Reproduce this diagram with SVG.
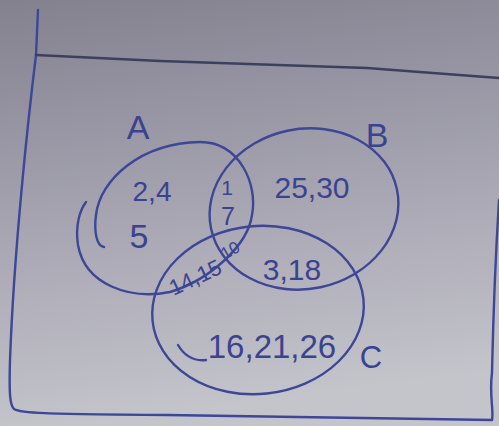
<svg xmlns="http://www.w3.org/2000/svg" width="499" height="426" viewBox="0 0 499 426">
<defs>
<linearGradient id="bg" x1="0" y1="0" x2="0.15" y2="1">
<stop offset="0" stop-color="#83818e"/>
<stop offset="0.3" stop-color="#9795a3"/>
<stop offset="0.7" stop-color="#b1b0bb"/>
<stop offset="1" stop-color="#c4c4cb"/>
</linearGradient>
<style>
.ink{fill:none;stroke:#3d4697;stroke-width:2.4;stroke-linecap:round;stroke-linejoin:round}
.dark{fill:none;stroke:#3e3f5e;stroke-width:2.4;stroke-linecap:round}
.t{font-family:"Liberation Sans",Arial,sans-serif;fill:#3a4390;text-anchor:middle}
</style>
</defs>
<rect width="499" height="426" fill="url(#bg)"/>
<g id="frame">
<path class="ink" d="M38,10 L36,55 C28,120 14,250 10,360 C9,395 10,405 14,409 C20,413 40,414 167,415 L492,420 C494,410 489,395 492,373 C493,330 494,280 499,200"/>
<path class="dark" d="M36,55 L160,61 L367,68 L499,78"/>
</g>
<g id="set-A">
<path class="ink" d="M104,247 C96,246 94,230 96,215 C100,180 140,143 200,142 C240,142 258,185 252,215 C248,245 210,280 170,292 C130,300 85,285 78,245 C75,225 80,210 86,202"/>
<text class="t" x="138" y="139" font-size="34">A</text>
</g>
<g id="set-B">
<ellipse class="ink" cx="304" cy="209" rx="95" ry="80" transform="rotate(-12 304 209)"/>
<text class="t" x="377" y="147" font-size="34">B</text>
</g>
<g id="set-C">
<ellipse class="ink" cx="258" cy="310" rx="106" ry="84" transform="rotate(-6 258 310)"/>
<path class="ink" d="M178,345 Q188,362 206,360"/>
<text class="t" x="371" y="368" font-size="31">C</text>
</g>
<g id="regions">
<text class="t" x="152" y="201" font-size="28">2,4</text>
<text class="t" x="139" y="248" font-size="34">5</text>
<text class="t" x="227" y="195" font-size="21">1</text>
<text class="t" x="228" y="225" font-size="25">7</text>
<text class="t" x="230" y="256" font-size="17" transform="rotate(-30 230 250)">10</text>
<text class="t" x="195" y="285" font-size="22" transform="rotate(-25 195 277)">14,15</text>
<text class="t" x="312" y="198" font-size="30">25,30</text>
<text class="t" x="292" y="280" font-size="30">3,18</text>
<text class="t" x="272" y="358" font-size="33">16,21,26</text>
</g>
</svg>
